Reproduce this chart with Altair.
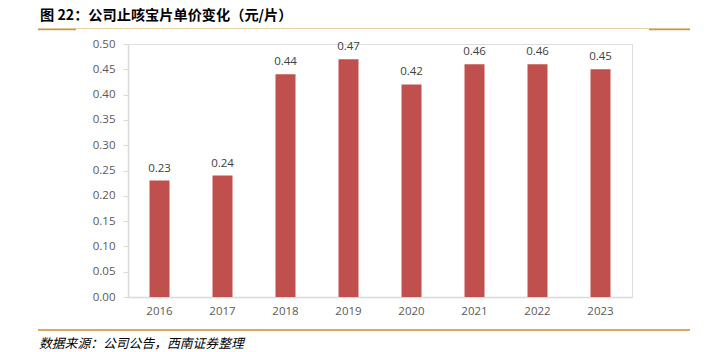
import altair as alt
import pandas as pd

years = ["2016", "2017", "2018", "2019", "2020", "2021", "2022", "2023"]
prices = [0.23, 0.24, 0.44, 0.47, 0.42, 0.46, 0.46, 0.45]
y_ticks = [0.0, 0.05, 0.10, 0.15, 0.20, 0.25, 0.30, 0.35, 0.40, 0.45, 0.50]
title_text = "图 22：公司止咳宝片单价变化（元/片）"
source_text = "数据来源：公司公告，西南证券整理"

df = pd.DataFrame({"year": years, "price": prices})
df["label"] = [f"{v:.2f}" for v in prices]

W, H = 504, 253
font = "Noto Sans CJK SC"

base = alt.Chart(df)

y_axis = alt.Axis(values=y_ticks, format=".2f", grid=False, labelFont="Open Sans",
                  labelFontSize=11.5, labelColor="#595959", domainColor="#D9D9D9",
                  tickColor="#D9D9D9", tickSize=5, labelPadding=8, domainWidth=1.5,
                  labelOverlap=False)
y_scale = alt.Scale(domain=[0, 0.5], nice=False)
x_axis = alt.Axis(labelAngle=0, labelFont="Open Sans", labelFontSize=11.5,
                  labelColor="#595959", domainColor="#D9D9D9", ticks=False,
                  labelPadding=8, domainWidth=1.5)
x_scale = alt.Scale(paddingInner=0.68, paddingOuter=0.34)

x_enc = alt.X("year:N", sort=years, title=None, scale=x_scale, axis=x_axis)
y_enc = alt.Y("price:Q", title=None, scale=y_scale, axis=y_axis)

bars = base.mark_bar(color="#C0504D", size=20).encode(x=x_enc, y=y_enc)

labels = base.mark_text(dy=-12, font="Open Sans", fontSize=11.5, color="#404040").encode(
    x=x_enc, y=y_enc, text="label:N",
)

title = alt.Chart(pd.DataFrame({"t": [title_text]})).mark_text(
    align="left", baseline="middle", font=font, fontSize=14.2, fontWeight="bold", color="#000000"
).encode(x=alt.value(-88), y=alt.value(-28), text="t:N")

source = alt.Chart(pd.DataFrame({"t": [source_text]})).mark_text(
    align="left", baseline="middle", font=font, fontSize=12.8, fontStyle="italic", color="#000000"
).encode(x=alt.value(-89), y=alt.value(300), text="t:N")

top_light = alt.Chart(pd.DataFrame({"a": [0]})).mark_rule(color="#EBD3A8", strokeWidth=1.2).encode(
    x=alt.value(-90), x2=alt.value(562), y=alt.value(-15.5))
top_dark_l = alt.Chart(pd.DataFrame({"a": [0]})).mark_rule(color="#C8964E", strokeWidth=1.5).encode(
    x=alt.value(-90), x2=alt.value(-52), y=alt.value(-14.5))
top_dark_r = alt.Chart(pd.DataFrame({"a": [0]})).mark_rule(color="#C8964E", strokeWidth=1.5).encode(
    x=alt.value(521), x2=alt.value(562), y=alt.value(-14.5))
bottom_line = alt.Chart(pd.DataFrame({"a": [0]})).mark_rule(color="#D08A2E", strokeWidth=1.5).encode(
    x=alt.value(-90), x2=alt.value(562), y=alt.value(286))

chart = alt.layer(bars, labels, title, source, top_light, top_dark_l, top_dark_r, bottom_line).properties(
    width=W, height=H,
    autosize=alt.AutoSizeParams(type="none"),
    padding={"left": 128, "top": 44, "right": 79, "bottom": 55},
).configure_view(stroke=None).configure(background="white")

chart.save("out.html", embed_options={"renderer": "svg", "actions": False})
